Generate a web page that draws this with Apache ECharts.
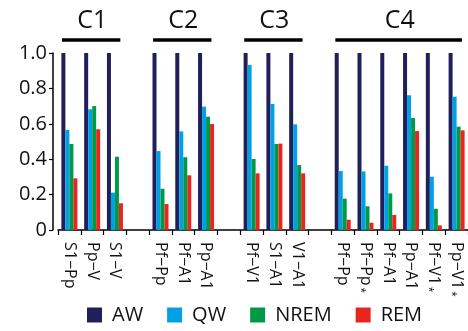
<!DOCTYPE html>
<html><head><meta charset="utf-8">
<script src="https://cdn.jsdelivr.net/npm/echarts@6/dist/echarts.min.js"></script>
<style>html,body{margin:0;padding:0;background:#fff}#c{width:468px;height:331px}</style>
</head><body><div id="c"></div>
<script>
const categories = ['S1−Pp','Pp−V','S1−V','', 'Pf−Pp','Pf−A1','Pp−A1','', 'Pf−V1','S1−A1','V1−A1','', 'Pf−Pp','Pf−Pp*','Pf−A1','Pp−A1','Pf−V1*','Pp−V1*'];
const AW   = [1,1,1,null, 1,1,1,null, 1,1,1,null, 1,1,1,1,1,1];
const QW   = [0.565,0.682,0.211,null, 0.446,0.557,0.697,null, 0.932,0.712,0.597,null, 0.333,0.331,0.363,0.761,0.301,0.753];
const NREM = [0.486,0.700,0.414,null, 0.233,0.411,0.640,null, 0.401,0.486,0.367,null, 0.177,0.134,0.207,0.633,0.120,0.584];
const REM  = [0.292,0.569,0.151,null, 0.147,0.309,0.599,null, 0.320,0.488,0.320,null, 0.058,0.041,0.085,0.559,0.026,0.563];
const groups = [{name:'C1',from:0,to:2},{name:'C2',from:4,to:6},{name:'C3',from:8,to:10},{name:'C4',from:12,to:17}];
const yTicks = [0,0.2,0.4,0.6,0.8,1.0];
const seriesNames = ['AW','QW','NREM','REM'];
const colors = ['#1f1f5c','#00a0e6','#009a46','#e8251f'];
const FONT = '"Open Sans", sans-serif';

const chart = echarts.init(document.getElementById('c'));
const vals = [AW,QW,NREM,REM];
chart.setOption({
  animation:false,
  color: colors,
  grid:{left:58,right:0,top:53,bottom:101,containLabel:false},
  legend:{
    data: seriesNames, left:87, top:304, padding:0, itemWidth:15, itemHeight:15, itemGap:24, icon:'rect',
    textStyle:{fontFamily:FONT,fontSize:20,color:'#111',padding:[0,0,0,5],lineHeight:22}
  },
  xAxis:{
    type:'category', data:categories, boundaryGap:true,
    axisLine:{lineStyle:{color:'#000',width:1.5}},
    axisTick:{show:true,interval:0,length:5,lineStyle:{color:'#000',width:1.2}},
    axisLabel:{interval:0,rotate:-90,margin:12,fontFamily:FONT,fontSize:16,color:'#111',
      formatter:function(v){ return v.endsWith('*') ? v.slice(0,-1)+'{s|*}' : v; },
      rich:{s:{fontSize:10,fontFamily:FONT,color:'#111',padding:[10,0,0,2]}}}
  },
  yAxis:{
    type:'value', min:0, max:1, interval:0.2, offset:5,
    splitLine:{show:false},
    axisLine:{show:true,lineStyle:{color:'#000',width:1.5}},
    axisTick:{show:true,length:4,lineStyle:{color:'#000',width:1.2}},
    axisLabel:{margin:6,fontFamily:FONT,fontSize:20,color:'#111',
      formatter:function(v){ return v===0?'0':v.toFixed(1); }}
  },
  series: seriesNames.map((n,i)=>({name:n,type:'bar',data:vals[i],barWidth:4,barGap:'0%',itemStyle:{color:colors[i]}}))
});

function drawGroups(){
  const c0 = chart.convertToPixel({xAxisIndex:0}, 0);
  const c1 = chart.convertToPixel({xAxisIndex:0}, 1);
  const w = c1 - c0;
  const els = [];
  groups.forEach(g=>{
    const a = chart.convertToPixel({xAxisIndex:0}, g.from) - w/2 + 4;
    const b = chart.convertToPixel({xAxisIndex:0}, g.to) + w/2 - 6;
    els.push({type:'line',shape:{x1:a,y1:40,x2:b,y2:40},style:{stroke:'#000',lineWidth:3.5},silent:true});
    els.push({type:'text',x:(a+b)/2+1,y:21,style:{text:g.name,font:'25px "Open Sans", sans-serif',fill:'#111',align:'center',verticalAlign:'middle'},silent:true});
  });
  chart.setOption({graphic:els});
}
drawGroups();
</script></body></html>
